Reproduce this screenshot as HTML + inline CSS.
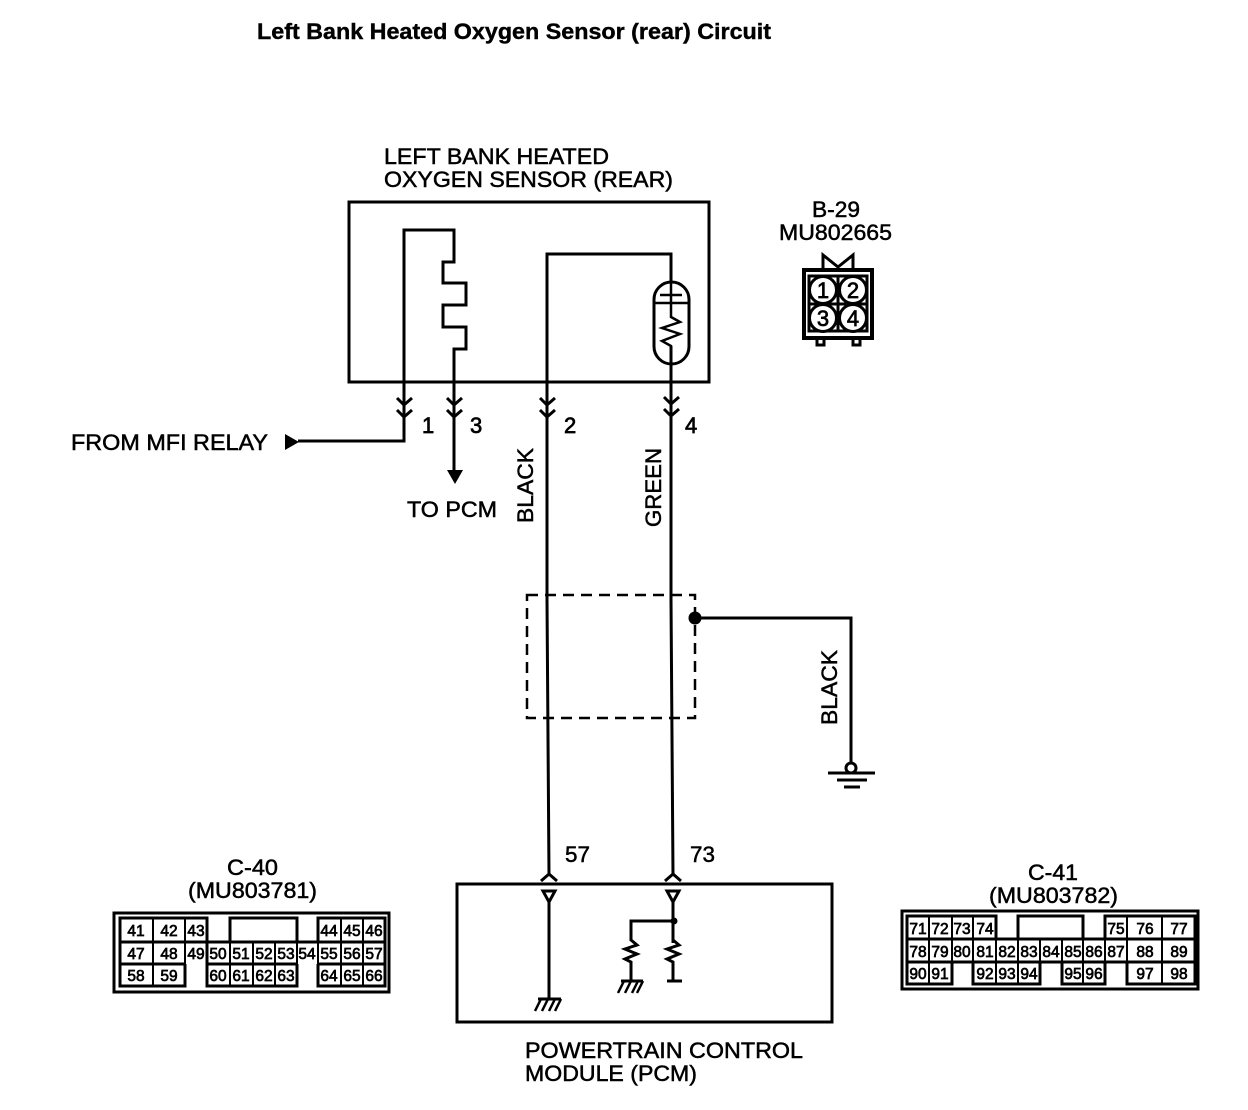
<!DOCTYPE html>
<html><head><meta charset="utf-8"><style>
html,body{margin:0;padding:0;background:#fff}
svg{display:block}
text{font-family:"Liberation Sans",sans-serif;fill:#000;stroke:#000;stroke-width:.5}
.l{font-size:22px}
.c{font-size:15.5px;text-anchor:middle;stroke-width:.7}
.n{font-size:22px;stroke-width:.7}
.w{fill:none;stroke:#000;stroke-width:3}
.t{fill:none;stroke:#000;stroke-width:2}
</style></head><body>
<svg width="1248" height="1110" viewBox="0 0 1248 1110" xmlns="http://www.w3.org/2000/svg">
<rect width="1248" height="1110" fill="#fff"/>
<text x="257" y="39" font-weight="bold" textLength="514" lengthAdjust="spacingAndGlyphs" style="font-size:22px;stroke-width:.4">Left Bank Heated Oxygen Sensor (rear) Circuit</text>
<text class="l" x="384" y="164" textLength="225" lengthAdjust="spacingAndGlyphs">LEFT BANK HEATED</text>
<text class="l" x="384" y="187" textLength="289" lengthAdjust="spacingAndGlyphs">OXYGEN SENSOR (REAR)</text>
<text class="l" x="812" y="217" textLength="48" lengthAdjust="spacingAndGlyphs">B-29</text>
<text class="l" x="779" y="240" textLength="113" lengthAdjust="spacingAndGlyphs">MU802665</text>
<text class="l" x="71" y="450" textLength="197" lengthAdjust="spacingAndGlyphs">FROM MFI RELAY</text>
<text class="l" x="407" y="517" textLength="90" lengthAdjust="spacingAndGlyphs">TO PCM</text>
<text class="n" x="422" y="433">1</text><text class="n" x="470" y="433">3</text>
<text class="n" x="564" y="433">2</text><text class="n" x="685" y="433">4</text>
<text class="l" transform="translate(533,523) rotate(-90)" textLength="75" lengthAdjust="spacingAndGlyphs">BLACK</text>
<text class="l" transform="translate(661,527) rotate(-90)" textLength="79" lengthAdjust="spacingAndGlyphs">GREEN</text>
<text class="l" transform="translate(837,725) rotate(-90)" textLength="75" lengthAdjust="spacingAndGlyphs">BLACK</text>
<text class="l" x="565" y="862" textLength="25" lengthAdjust="spacingAndGlyphs">57</text>
<text class="l" x="690" y="862" textLength="25" lengthAdjust="spacingAndGlyphs">73</text>
<text class="l" x="227" y="875" textLength="51" lengthAdjust="spacingAndGlyphs">C-40</text>
<text class="l" x="188" y="898" textLength="129" lengthAdjust="spacingAndGlyphs">(MU803781)</text>
<text class="l" x="1028" y="880" textLength="50" lengthAdjust="spacingAndGlyphs">C-41</text>
<text class="l" x="989" y="903" textLength="129" lengthAdjust="spacingAndGlyphs">(MU803782)</text>
<text class="l" x="525" y="1058" textLength="278" lengthAdjust="spacingAndGlyphs">POWERTRAIN CONTROL</text>
<text class="l" x="525" y="1081" textLength="172" lengthAdjust="spacingAndGlyphs">MODULE (PCM)</text>

<!-- sensor box -->
<rect class="w" x="349" y="202" width="360" height="180"/>
<polyline class="w" points="298,441 404,441 404,230 454,230 454,262 443,262 443,283 466,283 466,305 443,305 443,327 466,327 466,349 454,349 454,472"/>
<polygon points="285,434 285,450 299,442"/>
<polygon points="447,470 463,470 455,484"/>
<polyline class="w" points="547,382 547,254 671,254 671,282"/>
<rect class="w" x="654" y="282" width="35" height="82" rx="17.5" ry="17.5"/>
<path class="t" d="M671 282V317L680 322 662 328 680 334 662 341 671 346V364" style="stroke-width:2.5"/>
<path class="w" d="M660 295H682M655 303H688" style="stroke-width:2.5"/>
<polyline class="w" points="547,382 547,600 549,875"/>
<polyline class="w" points="671,346 671,600 673,875"/>
<!-- chevrons -->
<path class="w" d="M397 398L404 405 412 398M397 410L404 417 412 410M447 398L454 405 462 398M447 410L454 417 462 410M540 398L547 405 555 398M540 410L547 417 555 410M664 397L671 404 679 397M664 409L671 416 679 409"/>
<path class="w" d="M541 881L549 874 557 881M665 881L673 874 681 881"/>
<!-- dashed -->
<rect x="527" y="595" width="168" height="123" fill="none" stroke="#000" stroke-width="2.5" stroke-dasharray="11 7"/>
<circle cx="695" cy="618" r="6.5"/>
<polyline class="w" points="695,618 851,618 851,763"/>
<circle cx="851" cy="768" r="5" fill="#fff" stroke="#000" stroke-width="3"/>
<path class="w" d="M828 773H875M837 780H867M844 787H860"/>
<!-- PCM -->
<rect class="w" x="457" y="884" width="375" height="138"/>
<polygon points="543,891 555,891 549,902" fill="#fff" stroke="#000" stroke-width="3"/>
<polygon points="667,891 679,891 673,902" fill="#fff" stroke="#000" stroke-width="3"/>
<line class="w" x1="549" y1="902" x2="549" y2="999"/>
<path class="w" d="M673 902V943M673 921H631V941"/>
<circle cx="674" cy="921" r="3.5"/>
<path class="w" d="M631 940L637 945 625 949 637 954 625 959 631 962V981M673 940L679 945 667 949 679 954 667 959 673 962V981" stroke-width="3"/>
<path class="w" d="M538 999H561M621 981H643M667 981H682"/>
<path class="w" d="M541 999L535 1011M548 999L542 1011M555 999L549 1011M561 999L555 1011M624 981L618 993M631 981L625 993M638 981L632 993M643 981L637 993" style="stroke-width:2.5"/>
<!-- B-29 -->
<path class="w" d="M823 269V255L838 267 853 255V269"/>
<rect class="w" x="804" y="270" width="68" height="68" style="stroke-width:4"/>
<rect class="t" x="809" y="276" width="58" height="55" style="stroke-width:3"/>
<path class="t" d="M838 276V331M809 304H867" style="stroke-width:3"/>
<path class="t" d="M817 339V345H824V339M853 339V345H860V339" style="stroke-width:3"/>
<circle cx="823" cy="290" r="13.5" fill="#fff" stroke="#000" stroke-width="3"/>
<circle cx="853" cy="290" r="13.5" fill="#fff" stroke="#000" stroke-width="3"/>
<circle cx="823" cy="318" r="13.5" fill="#fff" stroke="#000" stroke-width="3"/>
<circle cx="853" cy="318" r="13.5" fill="#fff" stroke="#000" stroke-width="3"/>
<text class="n" x="823" y="298" text-anchor="middle">1</text><text class="n" x="853" y="298" text-anchor="middle">2</text>
<text class="n" x="823" y="326" text-anchor="middle">3</text><text class="n" x="853" y="326" text-anchor="middle">4</text>
<!-- C-40 -->
<rect class="w" x="114" y="913" width="275" height="79"/>
<path class="w" d="M120 942V918H207V942M230 942V918H297V942M318 942V918H385V986H318V964M120 942H385M120 964H185M120 942V986H185V964M207 942V986H297V964M207 964H297M318 964H385M318 964V986"/>
<path class="t" d="M153 918V986M185 918V964M318 918V986M341 918V986M363 918V986M207 942V986M230 942V986M253 942V986M275 942V986M297 942V964"/>
<text class="c" x="136" y="936">41</text><text class="c" x="169" y="936">42</text><text class="c" x="196" y="936">43</text><text class="c" x="329" y="936">44</text><text class="c" x="352" y="936">45</text><text class="c" x="374" y="936">46</text>
<text class="c" x="136" y="959">47</text><text class="c" x="169" y="959">48</text><text class="c" x="196" y="959">49</text><text class="c" x="218" y="959">50</text><text class="c" x="241" y="959">51</text><text class="c" x="264" y="959">52</text><text class="c" x="286" y="959">53</text><text class="c" x="307" y="959">54</text><text class="c" x="329" y="959">55</text><text class="c" x="352" y="959">56</text><text class="c" x="374" y="959">57</text>
<text class="c" x="136" y="981">58</text><text class="c" x="169" y="981">59</text><text class="c" x="218" y="981">60</text><text class="c" x="241" y="981">61</text><text class="c" x="264" y="981">62</text><text class="c" x="286" y="981">63</text><text class="c" x="329" y="981">64</text><text class="c" x="352" y="981">65</text><text class="c" x="374" y="981">66</text>
<!-- C-41 -->
<rect class="w" x="902" y="911" width="296" height="78"/>
<path class="w" d="M907 939V916H996V939M1018 939V916H1083V939M1105 939V916H1195V984H1127V962M907 939H1195M907 962H1195M907 939V984H952V962M973 962V984H1040V962M1062 962V984H1105V962"/>
<path class="t" d="M929 916V984M952 916V962M973 916V962M996 939V984M1018 939V984M1040 939V962M1062 939V962M1083 939V984M1105 939V962M1127 916V984M1162 916V984"/>
<text class="c" x="918" y="934">71</text><text class="c" x="940" y="934">72</text><text class="c" x="962" y="934">73</text><text class="c" x="985" y="934">74</text><text class="c" x="1116" y="934">75</text><text class="c" x="1145" y="934">76</text><text class="c" x="1179" y="934">77</text>
<text class="c" x="918" y="957">78</text><text class="c" x="940" y="957">79</text><text class="c" x="962" y="957">80</text><text class="c" x="985" y="957">81</text><text class="c" x="1007" y="957">82</text><text class="c" x="1029" y="957">83</text><text class="c" x="1051" y="957">84</text><text class="c" x="1073" y="957">85</text><text class="c" x="1094" y="957">86</text><text class="c" x="1116" y="957">87</text><text class="c" x="1145" y="957">88</text><text class="c" x="1179" y="957">89</text>
<text class="c" x="918" y="979">90</text><text class="c" x="940" y="979">91</text><text class="c" x="985" y="979">92</text><text class="c" x="1007" y="979">93</text><text class="c" x="1029" y="979">94</text><text class="c" x="1073" y="979">95</text><text class="c" x="1094" y="979">96</text><text class="c" x="1145" y="979">97</text><text class="c" x="1179" y="979">98</text>
</svg>
</body></html>
